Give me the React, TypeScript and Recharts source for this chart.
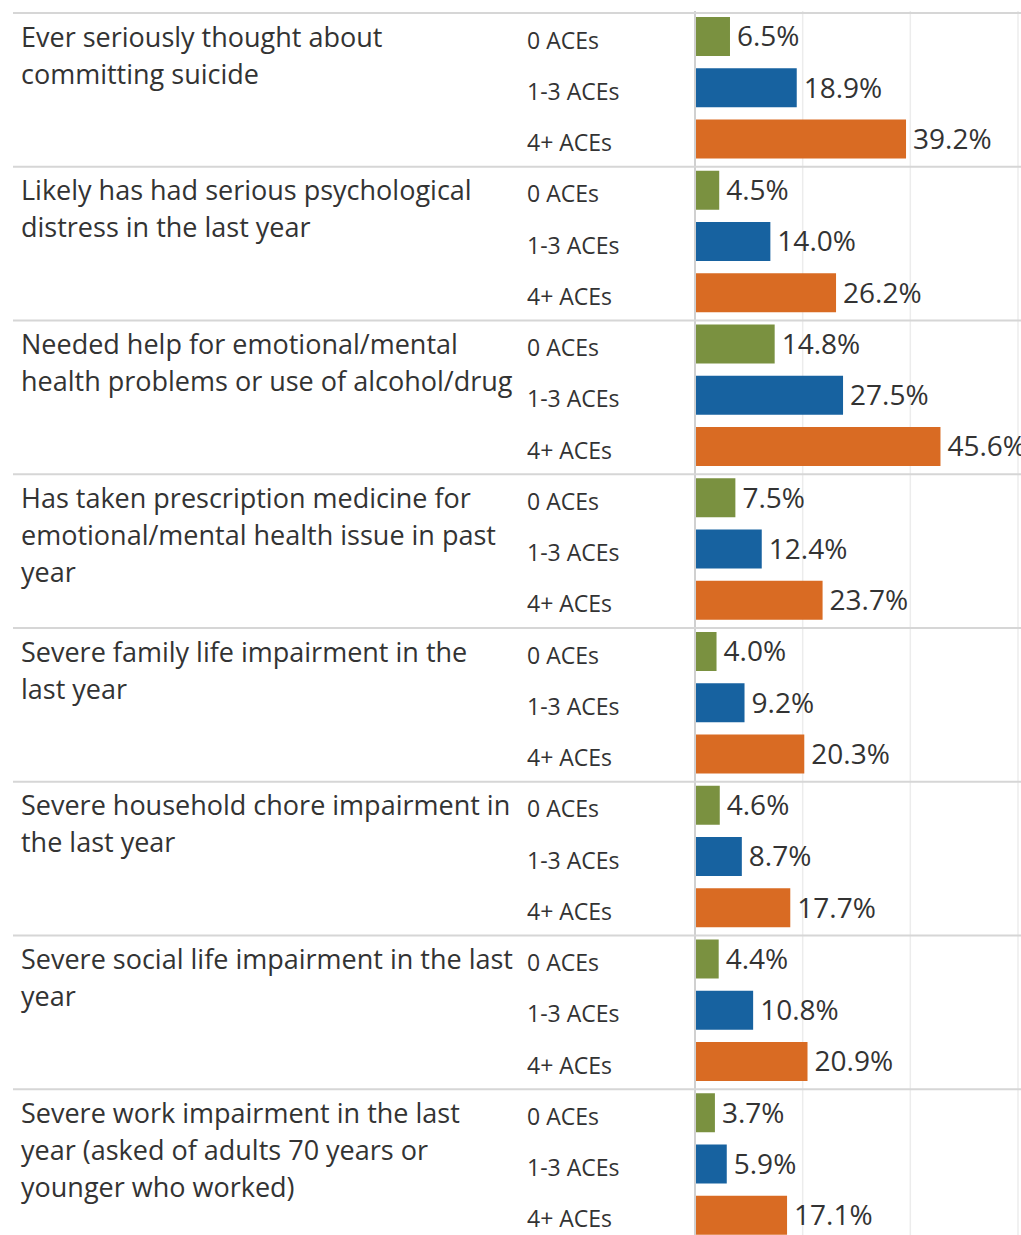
import { BarChart, Bar, XAxis, YAxis, CartesianGrid, Cell, LabelList } from "recharts";

const groupLabels: string[][] = [
  ["Ever seriously thought about", "committing suicide"],
  ["Likely has had serious psychological", "distress in the last year"],
  ["Needed help for emotional/mental", "health problems or use of alcohol/drug"],
  ["Has taken prescription medicine for", "emotional/mental health issue in past", "year"],
  ["Severe family life impairment in the", "last year"],
  ["Severe household chore impairment in", "the last year"],
  ["Severe social life impairment in the last", "year"],
  ["Severe work impairment in the last", "year (asked of adults 70 years or", "younger who worked)"],
];

const aceLevels = ["0 ACEs", "1-3 ACEs", "4+ ACEs"];

const zeroAces = [6.5, 4.5, 14.8, 7.5, 4.0, 4.6, 4.4, 3.7];
const oneToThreeAces = [18.9, 14.0, 27.5, 12.4, 9.2, 8.7, 10.8, 5.9];
const fourPlusAces = [39.2, 26.2, 45.6, 23.7, 20.3, 17.7, 20.9, 17.1];

const xTicks = [0, 20, 40, 60];

const levelColors = ["#7a9140", "#1762a0", "#d96b23"];

const FONT = "'Open Sans', sans-serif";
const TEXT = "#333333";
const WIDTH = 1021;
const TOP = 11;
const PLOT_H = 1230;
const HEIGHT = TOP + PLOT_H;
const BAND = PLOT_H / 24;

const series = [zeroAces, oneToThreeAces, fourPlusAces];

const data = groupLabels.flatMap((_, g) =>
  aceLevels.map((level, l) => ({
    id: `${g}-${l}`,
    group: g,
    level: l,
    value: series[l][g],
  }))
);

// group label + separator on the first row of each group, ACE level on every row
const RowTick = (props: any) => {
  const { y, payload } = props;
  const [g, l] = String(payload.value).split("-").map(Number);
  const sepY = y - BAND / 2 + 2;
  return (
    <g>
      {l === 0 && (
        <>
          <line x1={13} x2={WIDTH} y1={sepY} y2={sepY} stroke="#d6d6d6" strokeWidth={2} />
          <text x={21} y={y + 10} fontSize={27} fill={TEXT} fontFamily={FONT}>
            {groupLabels[g].map((line, i) => (
              <tspan key={i} x={21} dy={i === 0 ? 0 : 37}>
                {line}
              </tspan>
            ))}
          </text>
        </>
      )}
      <text x={527} y={y + 12} fontSize={23} fill={TEXT} fontFamily={FONT}>
        {aceLevels[l]}
      </text>
    </g>
  );
};

export default function App() {
  return (
    <div
      style={{
        position: "absolute",
        left: 0,
        top: 0,
        width: WIDTH,
        height: 1235,
        overflow: "hidden",
        background: "#fff",
      }}
    >
      <BarChart
        width={WIDTH}
        height={HEIGHT}
        data={data}
        layout="vertical"
        margin={{ top: TOP, right: 3, bottom: 0, left: 0 }}
        barSize={39}
      >
        <CartesianGrid horizontal={false} stroke="#ececec" strokeWidth={1.5} />
        <XAxis type="number" domain={[0, 60]} ticks={xTicks} hide />
        <YAxis
          type="category"
          dataKey="id"
          width={695}
          axisLine={{ stroke: "#d0d0d0", strokeWidth: 2 }}
          tickLine={false}
          interval={0}
          tick={<RowTick />}
        />
        <Bar dataKey="value" isAnimationActive={false}>
          {data.map((d) => (
            <Cell key={d.id} fill={levelColors[d.level]} />
          ))}
          <LabelList
            dataKey="value"
            position="right"
            offset={7}
            formatter={(v: any) => `${Number(v).toFixed(1)}%`}
            style={{ fontSize: 28, fill: TEXT, fontFamily: FONT }}
          />
        </Bar>
      </BarChart>
    </div>
  );
}
